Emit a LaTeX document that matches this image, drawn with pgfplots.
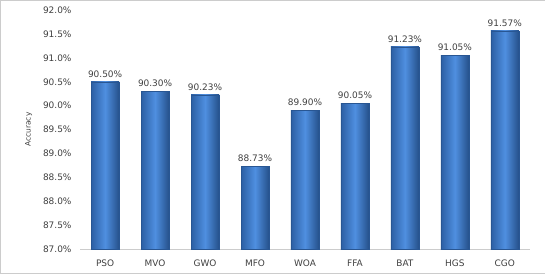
\documentclass[border=0pt]{standalone}
\usepackage{pgfplots}
\pgfplotsset{compat=1.18}
\usepackage{fontspec}
\setmainfont{DejaVu Sans}
\usetikzlibrary{calc}
\definecolor{txt}{HTML}{404040}
\definecolor{bdark}{HTML}{2C5FA3}
\definecolor{blight}{HTML}{4F8FE0}
\tikzset{barsty/.style={draw=bdark!90!black, left color=bdark, right color=bdark!85!black, middle color=blight}}
\begin{document}
\begin{tikzpicture}
\begin{axis}[name=ax,
  scale only axis, width=450bp, height=239bp,
  ymin=87, ymax=92, ytick={87,87.5,...,92},
  xmin=-0.5, xmax=8.5,
  xtick={0,...,8}, xticklabels={PSO,MVO,GWO,MFO,WOA,FFA,BAT,HGS,CGO},
  axis lines=left,
  x axis line style={draw=black!20,-},
  y axis line style={draw=none},
  tick style={draw=none},
  /pgf/number format/assume math mode=true,
  yticklabel={\pgfmathprintnumber[fixed,fixed zerofill,precision=1]{\tick}\%},
  ticklabel style={font=\fontsize{9}{10}\selectfont, text=txt},
  yticklabel style={xshift=-3bp},
  xticklabel style={yshift=-3bp},
  ylabel={Accuracy},
  ylabel style={font=\fontsize{7.5}{9}\selectfont, text=txt, yshift=4bp},
  ybar, bar width=28bp, bar shift=0pt,
  nodes near coords={\pgfmathprintnumber[fixed,fixed zerofill,precision=2]{\pgfplotspointmeta}\%},
  nodes near coords style={font=\fontsize{9}{10}\selectfont, text=txt, yshift=1bp},
]
\addplot[barsty] coordinates {(0,90.50)};
\addplot[barsty] coordinates {(1,90.30)};
\addplot[barsty] coordinates {(2,90.23)};
\addplot[barsty] coordinates {(3,88.73)};
\addplot[barsty] coordinates {(4,89.90)};
\addplot[barsty] coordinates {(5,90.05)};
\addplot[barsty] coordinates {(6,91.23)};
\addplot[barsty] coordinates {(7,91.05)};
\addplot[barsty] coordinates {(8,91.57)};
\end{axis}
\draw[black!20] ($(ax.south west)+(-80bp,-24bp)$) rectangle ($(ax.north east)+(15bp,10bp)$);
\end{tikzpicture}
\end{document}
